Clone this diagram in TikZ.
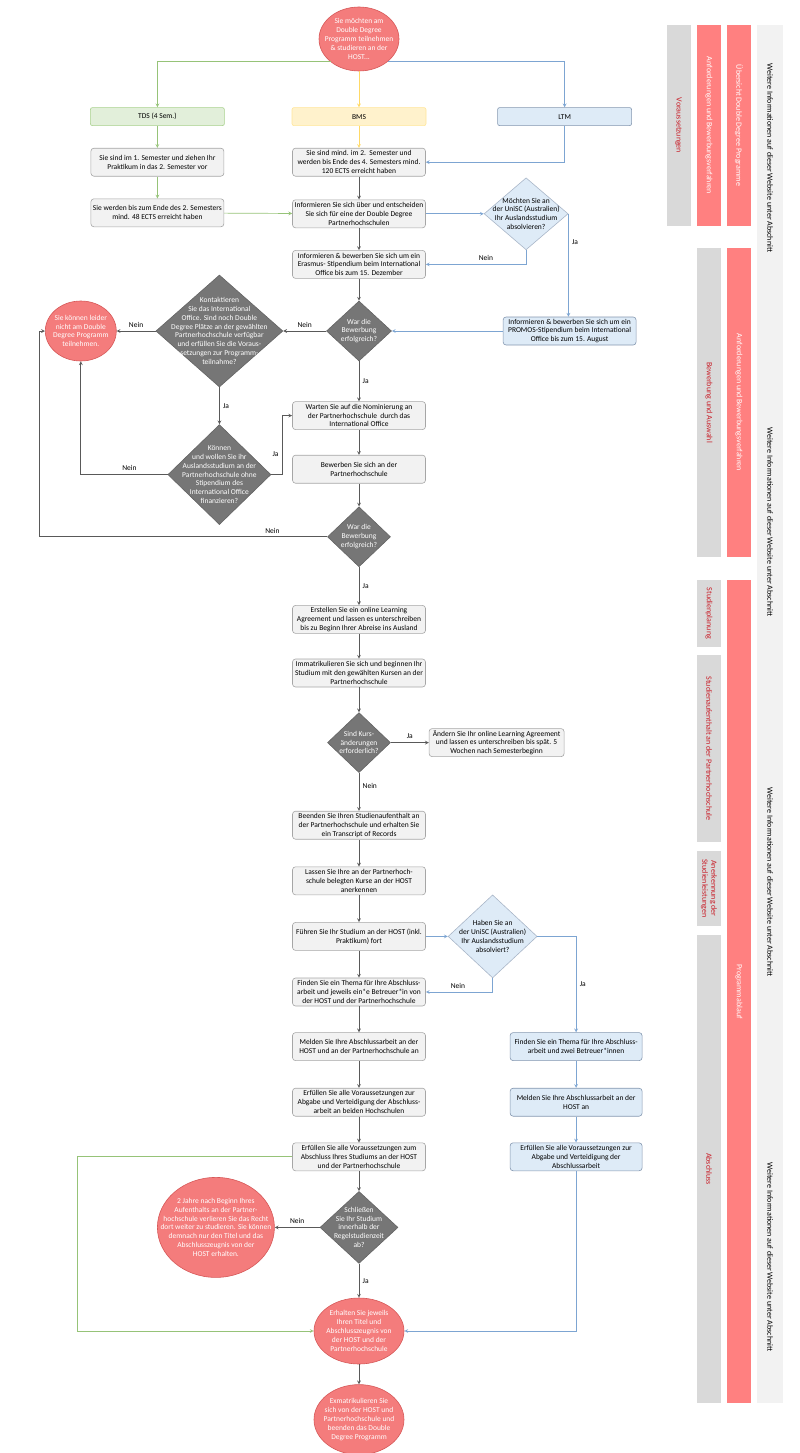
\documentclass[tikz,border=0pt]{standalone}
\usepackage{fontspec}
\setmainfont{Carlito}
\usepackage{xcolor}
\usetikzlibrary{shapes.geometric, arrows, positioning}

\definecolor{flowline}{RGB}{89,89,89}
\definecolor{boxgray}{RGB}{242,242,242}
\definecolor{boxedge}{RGB}{166,166,166}
\definecolor{diagray}{RGB}{118,118,118}
\definecolor{diaedge}{RGB}{100,100,100}
\definecolor{hostred}{RGB}{244,124,124}
\definecolor{hostredge}{RGB}{214,88,88}
\definecolor{barred}{RGB}{255,128,128}
\definecolor{bargray}{RGB}{217,217,217}
\definecolor{barlight}{RGB}{242,242,242}
\definecolor{bartext}{RGB}{200,30,40}
\definecolor{tdsgreen}{RGB}{226,239,218}
\definecolor{tdsedge}{RGB}{169,209,142}
\definecolor{bmsyellow}{RGB}{255,242,204}
\definecolor{bmsedge}{RGB}{255,230,153}
\definecolor{ltmblue}{RGB}{222,235,247}
\definecolor{ltmedge}{RGB}{132,151,176}
\definecolor{blueline}{RGB}{125,165,210}
\definecolor{greenline}{RGB}{150,195,120}
\definecolor{yellowline}{RGB}{255,217,102}

\begin{document}
\begin{tikzpicture}[
    x=1pt, y=-1pt,
    every node/.style={font=\fontsize{7.5}{8.8}\selectfont},
    block/.style={rectangle, rounded corners=3pt, draw=boxedge, fill=boxgray, align=center, minimum width=133pt, minimum height=28pt, inner sep=1pt, line width=0.6pt},
    blueblock/.style={block, draw=ltmedge, fill=ltmblue},
    header/.style={rectangle, rounded corners=2pt, align=center, minimum width=134pt, minimum height=18pt, inner sep=1pt, line width=0.6pt},
    decision/.style 2 args={diamond, draw=diaedge, fill=diagray, minimum width=#1pt, minimum height=#2pt, inner sep=0pt, line width=0.6pt},
    bluedecision/.style 2 args={decision={#1}{#2}, draw=ltmedge!70, fill=ltmblue},
    terminal/.style 2 args={ellipse, draw=hostredge, fill=hostred, minimum width=#1pt, minimum height=#2pt, inner sep=0pt, line width=0.6pt},
    intext/.style={align=center, inner sep=0pt},
    whitetext/.style={intext, text=white},
    arrow/.style={->, >=stealth, draw=flowline, line width=0.7pt},
    bluearrow/.style={arrow, draw=blueline},
    greenarrow/.style={arrow, draw=greenline},
    yellowarrow/.style={arrow, draw=yellowline},
    bar/.style={rectangle, rotate=-90, minimum height=24pt, inner sep=0pt, align=center, font=\fontsize{8}{9}\selectfont},
    graybar/.style={bar, fill=bargray, text=bartext},
    redbar/.style={bar, fill=barred, text=white},
    moreinfo/.style={rotate=-90, inner sep=0pt, font=\fontsize{8}{9}\selectfont}
]
\useasboundingbox (0,0) rectangle (800,1453);

% Start
\node[terminal={80}{64}, label={[whitetext]center:{Sie möchten am\\Double Degree\\Programm teilnehmen\\\& studieren an der\\HOST...}}] (start) at (359,39) {};

% Programmes
\node[header, fill=bmsyellow, draw=bmsedge, below=36pt of start] (bms) {BMS};
\node[header, fill=tdsgreen, draw=tdsedge, left=67pt of bms] (tds) {TDS (4 Sem.)};
\node[header, fill=ltmblue, draw=ltmedge, right=71pt of bms] (ltm) {LTM};

% Requirements
\node[block, below=22pt of bms] (mind2) {Sie sind mind. im 2.\ \ Semester und\\werden bis Ende des 4. Semesters mind.\\120 ECTS erreicht haben};
\node[block, below=22pt of tds] (sem1) {Sie sind im 1. Semester und ziehen Ihr\\Praktikum in das 2. Semester vor};
\node[block, below=22pt of sem1] (ects48) {Sie werden bis zum Ende des 2. Semesters\\mind. 48 ECTS erreicht haben};

% Application
\node[block, below=23pt of mind2] (inform) {Informieren Sie sich über und entscheiden\\Sie sich für eine der Double Degree\\Partnerhochschulen};
\node[bluedecision={84}{72}, right=58pt of inform, label={[intext]center:{Möchten Sie an\\der UniSC (Australien)\\Ihr Auslandsstudium\\absolvieren?}}] (unisc) {};
\node[block, below=22pt of inform] (erasmus) {Informieren \& bewerben Sie sich um ein\\Erasmus- Stipendium beim International\\Office bis zum 15. Dezember};
\node[decision={65}{60}, below=22pt of erasmus, label={[whitetext]center:{War die\\Bewerbung\\erfolgreich?}}] (check1) {};
\node[blueblock, right=111pt of check1] (promos) {Informieren \& bewerben Sie sich um ein\\PROMOS-Stipendium beim International\\Office bis zum 15. August};
\node[decision={127}{112}, left=43pt of check1, label={[whitetext]center:{Kontaktieren\\Sie das International\\Office. Sind noch Double\\Degree Plätze an der gewählten\\Partnerhochschule verfügbar\\und erfüllen Sie die Voraus-\\setzungen zur Programm-\\teilnahme?}}] (contact) {};
\node[terminal={71}{60}, left=39pt of contact, label={[whitetext]center:{Sie können leider\\nicht am Double\\Degree Programm\\teilnehmen.}}] (sorry) {};
\node[decision={103}{100}, below=37pt of contact, label={[whitetext]center:{Können\\und wollen Sie ihr\\Auslandsstudium an der\\Partnerhochschule ohne\\Stipendium des\\International Office\\finanzieren?}}] (finance) {};

% Selection
\node[block, below=40pt of check1] (wait) {Warten Sie auf die Nominierung an\\der Partnerhochschule\ \ durch das\\International Office};
\node[block, below=25pt of wait] (apply) {Bewerben Sie sich an der\\Partnerhochschule};
\node[decision={63}{60}, below=23pt of apply, label={[whitetext]center:{War die\\Bewerbung\\erfolgreich?}}] (check2) {};

% Stay abroad
\node[block, below=38pt of check2] (agreement) {Erstellen Sie ein online Learning\\Agreement und lassen es unterschreiben\\bis zu Beginn Ihrer Abreise ins Ausland};
\node[block, below=25pt of agreement] (enrol) {Immatrikulieren Sie sich und beginnen Ihr\\Studium mit den gewählten Kursen an der\\Partnerhochschule};
\node[decision={63}{60}, below=25pt of enrol, label={[whitetext]center:{Sind Kurs-\\änderungen\\erforderlich?}}] (changes) {};
\node[block, minimum width=135pt, right=38pt of changes] (change) {Ändern Sie Ihr online Learning Agreement\\und lassen es unterschreiben bis spät. 5\\Wochen nach Semesterbeginn};
\node[block, below=38pt of changes] (finish) {Beenden Sie Ihren Studienaufenthalt an\\der Partnerhochschule und erhalten Sie\\ein Transcript of Records};
\node[block, below=27pt of finish] (recog) {Lassen Sie Ihre an der Partnerhoch-\\schule belegten Kurse an der HOST\\anerkennen};

% Back at HOST
\node[block, below=27pt of recog] (continue) {Führen Sie Ihr Studium an der HOST (inkl.\\Praktikum) fort};
\node[bluedecision={89}{83}, right=22pt of continue, label={[intext]center:{Haben Sie an\\der UniSC (Australien)\\Ihr Auslandsstudium\\absolviert?}}] (uniscdone) {};
\node[block, below=27pt of continue] (topic) {Finden Sie ein Thema für Ihre Abschluss-\\arbeit und jeweils ein*e Betreuer*in von\\der HOST und der Partnerhochschule};
\node[block, below=26pt of topic] (register) {Melden Sie Ihre Abschlussarbeit an der\\HOST und an der Partnerhochschule an};
\node[block, below=27pt of register] (defend) {Erfüllen Sie alle Voraussetzungen zur\\Abgabe und Verteidigung der Abschluss-\\arbeit an beiden Hochschulen};
\node[block, below=26pt of defend] (complete) {Erfüllen Sie alle Voraussetzungen zum\\Abschluss Ihres Studiums an der HOST\\und der Partnerhochschule};
\node[blueblock, minimum width=132pt, right=84pt of register] (bluetopic) {Finden Sie ein Thema für Ihre Abschluss-\\arbeit und zwei Betreuer*innen};
\node[blueblock, minimum width=132pt, right=84pt of defend] (bluereg) {Melden Sie Ihre Abschlussarbeit an der\\HOST an};
\node[blueblock, minimum width=132pt, right=84pt of complete] (bluedone) {Erfüllen Sie alle Voraussetzungen zur\\Abgabe und Verteidigung der\\Abschlussarbeit};

% Degree
\node[decision={78}{72}, below=20pt of complete, label={[whitetext]center:{Schließen\\Sie Ihr Studium\\innerhalb der\\Regelstudienzeit\\ab?}}] (regular) {};
\node[terminal={117}{100}, left=45pt of regular, label={[whitetext]center:{2 Jahre nach Beginn Ihres\\Aufenthalts an der Partner-\\hochschule verlieren Sie das Recht\\dort weiter zu studieren. Sie können\\demnach nur den Titel und das\\Abschlusszeugnis von der\\HOST erhalten.}}] (lost) {};
\node[terminal={90}{66}, below=34pt of regular, label={[whitetext]center:{Erhalten Sie jeweils\\Ihren Titel und\\Abschlusszeugnis von\\der HOST und der\\Partnerhochschule}}] (degree) {};
\node[terminal={90}{70}, below=20pt of degree, label={[whitetext]center:{Exmatrikulieren Sie\\sich von der HOST und\\Partnerhochschule und\\beenden das Double\\Degree Programm}}] (exmatr) {};

% Side bars
\node[graybar, minimum width=201pt] (prereq) at (678.5,125.5) {Voraussetzungen};
\node[redbar, minimum width=201pt] (reqlink1) at (709,125.5) {Anforderungen und Bewerbungsverfahren};
\node[redbar, minimum width=201pt] (overview) at (739,125.5) {Übersicht Double Degree Programme};
\node[graybar, minimum width=309pt] (selection) at (709,402.5) {Bewerbung und Auswahl};
\node[redbar, minimum width=309pt] (reqlink2) at (739,402.5) {Anforderungen und Bewerbungsverfahren};
\node[graybar, minimum width=67pt] (planning) at (709,613.5) {Studienplanung};
\node[graybar, minimum width=187pt] (stay) at (709,748.5) {Studienaufenthalt an der Partnerhochschule};
\node[graybar, minimum width=75pt] (credits) at (709,888.5) {Anerkennung der\\Studienleistungen};
\node[graybar, minimum width=468pt] (final) at (709,1169) {Abschluss};
\node[redbar, minimum width=823pt] (course) at (739,991.5) {Programmablauf};
\node[bar, fill=barlight, minimum width=1378pt, minimum height=26pt] (website) at (770,714) {};
\node[moreinfo] (more1) at (770,158) {Weitere Informationen auf dieser Website unter Abschnitt};
\node[moreinfo] (more2) at (770,522) {Weitere Informationen auf dieser Website unter Abschnitt};
\node[moreinfo] (more3) at (770,882) {Weitere Informationen auf dieser Website unter Abschnitt};
\node[moreinfo] (more4) at (770,1257) {Weitere Informationen auf dieser Website unter Abschnitt};

% Arrows
\draw[yellowarrow] (start) -- (bms);
\draw[greenarrow] (start.south west) -| (tds);
\draw[bluearrow] (start.south east) -| (ltm);
\draw[yellowarrow] (bms) -- (mind2);
\draw[greenarrow] (tds) -- (sem1);
\draw[greenarrow] (sem1) -- (ects48);
\draw[greenarrow] (ects48) -- (inform);
\draw[bluearrow] (ltm) |- (mind2);
\draw[arrow] (mind2) -- (inform);
\draw[bluearrow] (inform) -- (unisc);
\draw[arrow] (inform) -- (erasmus);
\draw[bluearrow] (unisc.south) |- node[pos=0.7, above] {Nein} (erasmus);
\draw[bluearrow] (unisc.east) -- node[pos=0.28, right] {Ja} (unisc.east |- promos.north);
\draw[bluearrow] (promos) -- (check1);
\draw[arrow] (erasmus) -- (check1);
\draw[arrow] (check1) -- node[above] {Nein} (contact);
\draw[arrow] (check1) -- node[right] {Ja} (wait);
\draw[arrow] (contact) -- node[above] {Nein} (sorry);
\draw[arrow] (contact) -- node[right] {Ja} (finance);
\draw[arrow] (finance.east) -- ++(11,0) |- node[pos=0.17, left] {Ja} (wait);
\draw[arrow] (finance.west) -| node[pos=0.22, above] {Nein} (sorry.south);
\draw[arrow] (wait) -- (apply);
\draw[arrow] (apply) -- (check2);
\draw[arrow] (check2.west) -- node[pos=0.19, above] {Nein} ++(-288,0) |- (sorry.west);
\draw[arrow] (check2) -- node[right] {Ja} (agreement);
\draw[arrow] (agreement) -- (enrol);
\draw[arrow] (enrol) -- (changes);
\draw[arrow] (changes) -- node[above] {Ja} (change);
\draw[arrow] (changes) -- node[pos=0.35, right] {Nein} (finish);
\draw[arrow] (finish) -- (recog);
\draw[arrow] (recog) -- (continue);
\draw[bluearrow] (continue) -- (uniscdone);
\draw[arrow] (continue) -- (topic);
\draw[bluearrow] (uniscdone.south) |- node[pos=0.76, above] {Nein} (topic);
\draw[bluearrow] (uniscdone.east) -| node[pos=0.75, right] {Ja} (bluetopic);
\draw[arrow] (topic) -- (register);
\draw[arrow] (register) -- (defend);
\draw[arrow] (defend) -- (complete);
\draw[bluearrow] (bluetopic) -- (bluereg);
\draw[bluearrow] (bluereg) -- (bluedone);
\draw[bluearrow] (bluedone) |- (degree);
\draw[greenarrow] (complete.west) -- ++(-215,0) |- (degree);
\draw[arrow] (complete) -- (regular);
\draw[arrow] (regular) -- node[above] {Nein} (lost);
\draw[arrow] (regular) -- node[right] {Ja} (degree);
\draw[arrow] (degree) -- (exmatr);

\end{tikzpicture}
\end{document}
